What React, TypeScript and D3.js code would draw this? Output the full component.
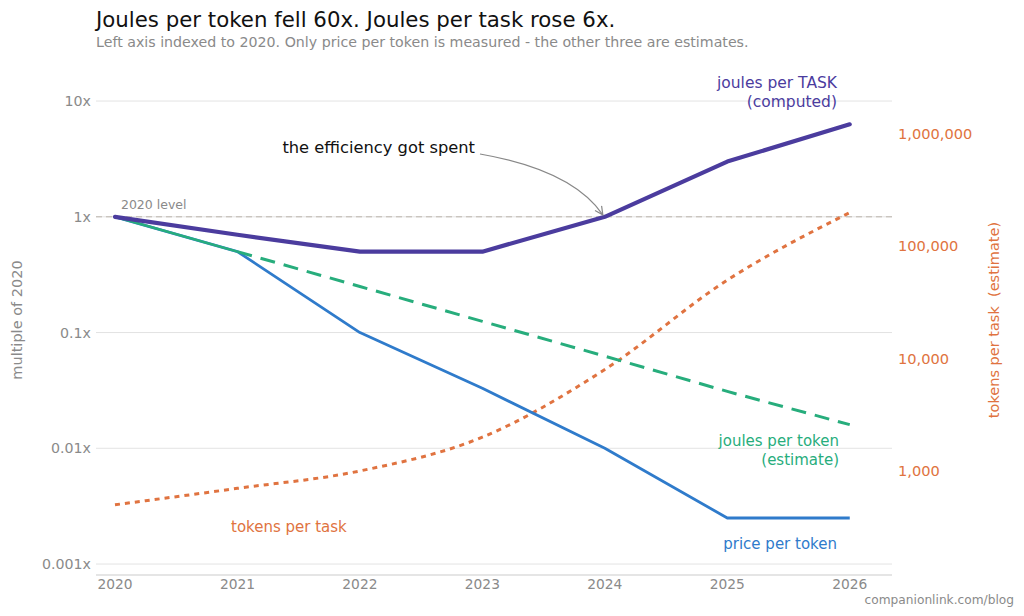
import * as React from "react";
import * as d3 from "d3";

const years: number[] = [2020, 2021, 2022, 2023, 2024, 2025, 2026];
const joulesPerTask: number[] = [1, 0.7, 0.5, 0.5, 1, 3, 6.3];
const pricePerToken: number[] = [1, 0.5, 0.1, 0.033, 0.01, 0.0025, 0.0025];
const joulesPerToken: number[] = [1, 0.5, 0.25, 0.125, 0.0625, 0.031, 0.016];
const tokensPerTask: number[] = [500, 700, 1000, 2000, 8000, 50000, 200000];

const leftTicks: number[] = [0.001, 0.01, 0.1, 1, 10];
const leftTickLabels: string[] = ["0.001x", "0.01x", "0.1x", "1x", "10x"];
const rightTicks: number[] = [1000, 10000, 100000, 1000000];

const W = 1024;
const H = 616;
const FONT = "DejaVu Sans, sans-serif";

const C = {
  task: "#4b3c9e",
  price: "#2f7bcb",
  jtoken: "#27ad7c",
  tokens: "#e07340",
  grey: "#8a8a8a",
  grid: "#e3e3e3",
};

type Pt = [number, number];

export default function App(): JSX.Element {
  const plot = { left: 96, right: 892, top: 55, bottom: 575 };

  const x = d3.scaleLinear().domain([2019.845, 2026.345]).range([plot.left, plot.right]);
  const yL = d3.scaleLog().domain([0.000804, 25]).range([plot.bottom, plot.top]);
  const yR = d3.scaleLog().domain([118.5, 5.05e6]).range([plot.bottom, plot.top]);

  const lineL = d3.line<Pt>().x((d) => x(d[0])).y((d) => yL(d[1]));
  const curveR = d3
    .line<Pt>()
    .x((d) => x(d[0]))
    .y((d) => yR(d[1]))
    .curve(d3.curveMonotoneX);

  const zip = (vals: number[]): Pt[] => years.map((yr, i) => [yr, vals[i]] as Pt);
  const jt = zip(joulesPerToken);

  const fmt = d3.format(",");

  // annotation arrow end: the 2024 point where task energy crosses back over 1x
  const ax = x(2024) - 2;
  const ay = yL(1) - 2;
  const sx = 480;
  const sy = 154;

  return (
    <svg width={W} height={H} style={{ position: "absolute", left: 0, top: 0 }} fontFamily={FONT}>
      <defs>
        <marker id="arr" viewBox="0 0 10 10" refX="9" refY="5" markerWidth="10" markerHeight="10" orient="auto" markerUnits="userSpaceOnUse">
          <path d="M1,1 L9,5 L1,9" fill="none" stroke="#888" strokeWidth={1.2} />
        </marker>
      </defs>
      <rect width={W} height={H} fill="#fff" />

      {/* gridlines */}
      {leftTicks.map((t) => (
        <line key={t} x1={plot.left} x2={plot.right} y1={yL(t)} y2={yL(t)} stroke={C.grid} strokeWidth={1} />
      ))}
      <line x1={plot.left} x2={plot.right} y1={plot.bottom} y2={plot.bottom} stroke="#dcdcdc" strokeWidth={1.5} />

      {/* 2020 level */}
      <line x1={plot.left} x2={plot.right} y1={yL(1)} y2={yL(1)} stroke="#bdb5ad" strokeWidth={1} strokeDasharray="6,4" />
      <text x={x(2020) + 6} y={yL(1) - 8} fontSize={12.5} fill={C.grey}>2020 level</text>

      {/* left axis */}
      {leftTicks.map((t, i) => (
        <text key={t} x={91} y={yL(t)} dy="0.35em" textAnchor="end" fontSize={14.2} fill={C.grey}>
          {leftTickLabels[i]}
        </text>
      ))}
      <text transform={`translate(22,${(plot.top + plot.bottom) / 2 + 5}) rotate(-90)`} textAnchor="middle" fontSize={14.5} fill={C.grey}>
        multiple of 2020
      </text>

      {/* right axis */}
      {rightTicks.map((t) => (
        <text key={t} x={898} y={yR(t)} dy="0.35em" fontSize={14.6} fill={C.tokens}>
          {fmt(t)}
        </text>
      ))}
      <text transform={`translate(999,${(plot.top + plot.bottom) / 2 + 5}) rotate(-90)`} textAnchor="middle" fontSize={14.5} fill={C.tokens} style={{ whiteSpace: "pre" }}>
        {"tokens per task  (estimate)"}
      </text>

      {/* x axis */}
      {years.map((yr) => (
        <text key={yr} x={x(yr)} y={589} textAnchor="middle" fontSize={13.8} fill={C.grey}>
          {yr}
        </text>
      ))}

      {/* series */}
      <path d={curveR(zip(tokensPerTask)) ?? ""} fill="none" stroke={C.tokens} strokeWidth={3} strokeDasharray="5,5" />
      <path d={lineL(zip(pricePerToken)) ?? ""} fill="none" stroke={C.price} strokeWidth={2.8} strokeLinejoin="round" />
      <path d={lineL(jt.slice(1)) ?? ""} fill="none" stroke={C.jtoken} strokeWidth={3} strokeDasharray="15,9" />
      <path d={lineL(jt.slice(0, 2)) ?? ""} fill="none" stroke={C.jtoken} strokeWidth={2.5} />
      <path d={lineL(zip(joulesPerTask)) ?? ""} fill="none" stroke={C.task} strokeWidth={4.2} strokeLinecap="round" strokeLinejoin="round" />

      {/* annotation */}
      <text x={475} y={153} textAnchor="end" fontSize={16.3} fill="#111">the efficiency got spent</text>
      <path d={`M${sx},${sy} Q${572},${170} ${ax},${ay}`} fill="none" stroke="#888" strokeWidth={1.2} markerEnd="url(#arr)" />

      {/* series labels */}
      <text x={837} y={88} textAnchor="end" fontSize={15.5} fill={C.task}>joules per TASK</text>
      <text x={837} y={107} textAnchor="end" fontSize={15.5} fill={C.task}>(computed)</text>
      <text x={839} y={446} textAnchor="end" fontSize={15} fill={C.jtoken}>joules per token</text>
      <text x={839} y={465} textAnchor="end" fontSize={15} fill={C.jtoken}>(estimate)</text>
      <text x={837} y={549} textAnchor="end" fontSize={15} fill={C.price}>price per token</text>
      <text x={231} y={532} fontSize={15} fill={C.tokens}>tokens per task</text>

      {/* titles */}
      <text x={96} y={27} fontSize={21.3} fill="#111">Joules per token fell 60x. Joules per task rose 6x.</text>
      <text x={96} y={47} fontSize={14.2} fill={C.grey}>
        Left axis indexed to 2020. Only price per token is measured - the other three are estimates.
      </text>
      <text x={1014} y={604} textAnchor="end" fontSize={12.2} fill={C.grey}>companionlink.com/blog</text>
    </svg>
  );
}
